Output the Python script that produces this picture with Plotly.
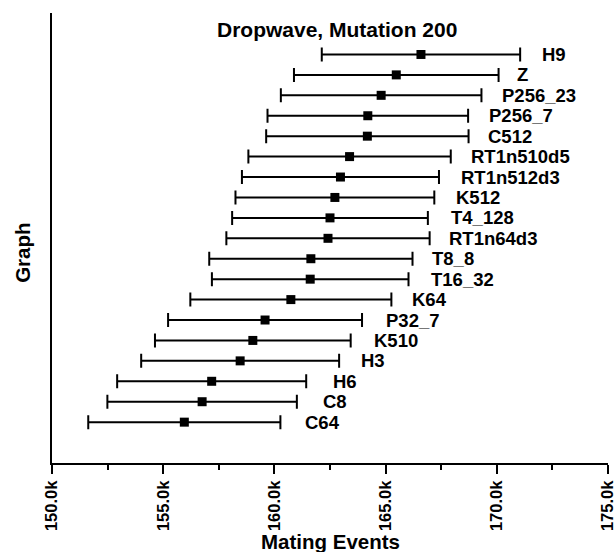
import plotly.graph_objects as go

# Data (bottom to top order)
names = ["C64", "C8", "H6", "H3", "K510", "P32_7", "K64", "T16_32", "T8_8",
         "RT1n64d3", "T4_128", "K512", "RT1n512d3", "RT1n510d5", "C512",
         "P256_7", "P256_23", "Z", "H9"]
means = [155.95, 156.75, 157.18, 158.46, 159.03, 159.58, 160.74, 161.61, 161.64,
         162.41, 162.50, 162.72, 162.97, 163.38, 164.18,
         164.20, 164.80, 165.48, 166.59]
errors = [4.32, 4.26, 4.25, 4.45, 4.40, 4.36, 4.52, 4.42, 4.57,
          4.57, 4.40, 4.47, 4.43, 4.55, 4.55,
          4.51, 4.51, 4.60, 4.46]

tick_vals = [150, 155, 160, 165, 170, 175]
tick_text = ["150.0k", "155.0k", "160.0k", "165.0k", "170.0k", "175.0k"]

title_text = "Dropwave, Mutation 200"
x_title = "Mating Events"
y_title = "Graph"

FONT = "Liberation Sans, Arial, Helvetica, sans-serif"

fig = go.Figure()
fig.add_trace(go.Scatter(
    x=means, y=names, mode="markers",
    marker=dict(symbol="square", size=9, color="black"),
    error_x=dict(type="data", array=errors, symmetric=True, width=7,
                 thickness=2, color="black"),
    showlegend=False, hoverinfo="skip",
))

annotations = []
for n, m in zip(names, means):
    annotations.append(dict(
        x=m, y=n, xref="x", yref="y", text="<b>" + n + "</b>", showarrow=False,
        xanchor="left", yanchor="middle", xshift=119,
        font=dict(family=FONT, size=18.5, color="black"),
    ))

annotations.append(dict(
    x=0.513, y=1, xref="paper", yref="paper", text="<b>" + title_text + "</b>",
    showarrow=False, xanchor="center", yanchor="middle", yshift=-16,
    font=dict(family=FONT, size=21, color="black"),
))
annotations.append(dict(
    x=0.5, y=0, xref="paper", yref="paper", text="<b>" + x_title + "</b>",
    showarrow=False, xanchor="center", yanchor="middle", yshift=-78,
    font=dict(family=FONT, size=20.5, color="black"),
))
annotations.append(dict(
    x=0, y=0.467, xref="paper", yref="paper", text="<b>" + y_title + "</b>",
    showarrow=False, xanchor="center", yanchor="middle", xshift=-29, textangle=-90,
    font=dict(family=FONT, size=20.5, color="black"),
))

fig.update_layout(
    width=616, height=552,
    margin=dict(l=52, r=8, t=13, b=89, autoexpand=False),
    paper_bgcolor="white", plot_bgcolor="white",
    annotations=annotations,
    xaxis=dict(
        range=[150, 175], showgrid=False, zeroline=False, automargin=False,
        showline=True, linecolor="black", linewidth=2,
        ticks="outside", ticklen=9, tickwidth=2, tickcolor="black",
        tickvals=tick_vals, ticktext=["<b>" + t + "</b>" for t in tick_text],
        tickangle=-90, ticklabeloverflow="allow",
        tickfont=dict(family=FONT, size=16.5, color="black"),
        minor=dict(ticks="outside", ticklen=5, tickwidth=2, tickcolor="black",
                   tick0=150, dtick=2.5),
    ),
    yaxis=dict(
        type="category", categoryorder="array", categoryarray=names,
        range=[-2, 20.03], showgrid=False, zeroline=False, automargin=False,
        showline=True, linecolor="black", linewidth=2,
        showticklabels=False, ticks="",
    ),
)

fig.write_html(
    "out.html",
    config={"displayModeBar": False},
    post_script="document.body.style.margin='0';document.body.style.overflow='hidden';",
)
